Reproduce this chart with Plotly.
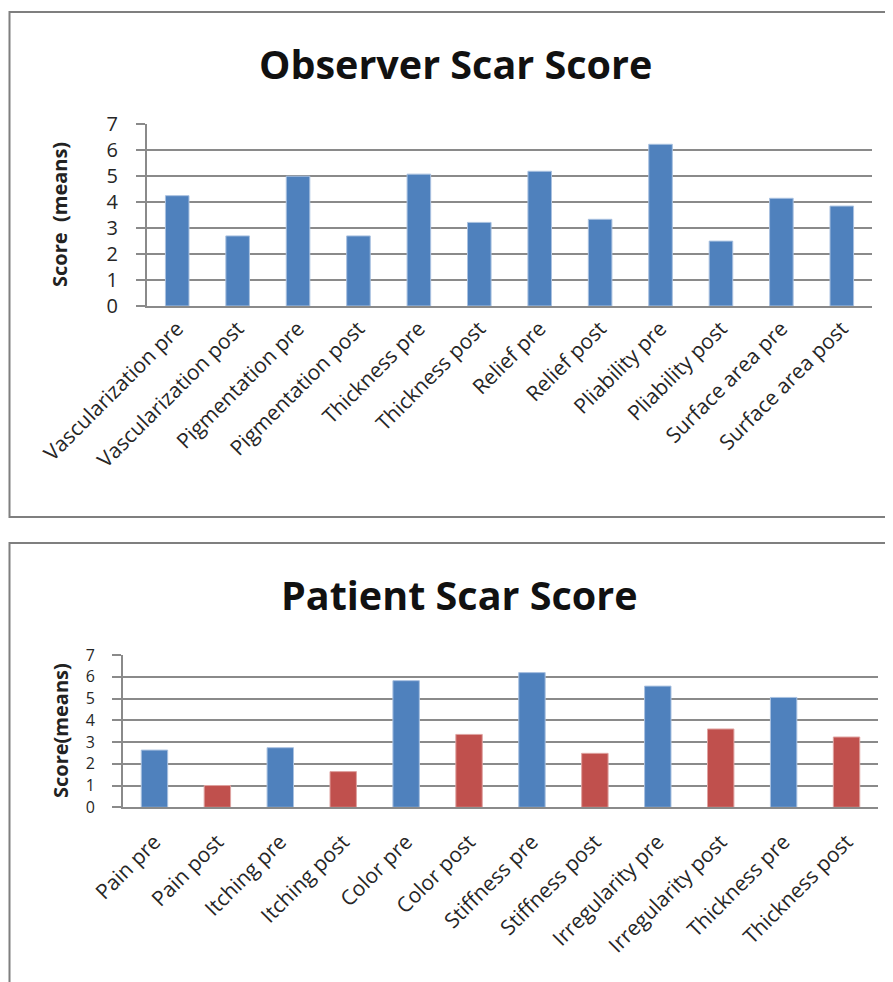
import plotly.graph_objects as go

# ---------------- data ----------------
observer_categories = [
    "Vascularization pre", "Vascularization post", "Pigmentation pre",
    "Pigmentation post", "Thickness pre", "Thickness post", "Relief pre",
    "Relief post", "Pliability pre", "Pliability post", "Surface area pre",
    "Surface area post",
]
observer_values = [4.25, 2.7, 5.0, 2.7, 5.08, 3.22, 5.19, 3.34, 6.23, 2.5, 4.15, 3.85]

patient_categories = [
    "Pain pre", "Pain post", "Itching pre", "Itching post", "Color pre",
    "Color post", "Stiffness pre", "Stiffness post", "Irregularity pre",
    "Irregularity post", "Thickness pre", "Thickness post",
]
patient_pre_categories = ["Pain pre", "Itching pre", "Color pre", "Stiffness pre",
                          "Irregularity pre", "Thickness pre"]
patient_pre_values = [2.63, 2.74, 5.82, 6.19, 5.57, 5.05]
patient_post_categories = ["Pain post", "Itching post", "Color post", "Stiffness post",
                           "Irregularity post", "Thickness post"]
patient_post_values = [1.0, 1.64, 3.35, 2.48, 3.6, 3.23]

y_ticks = [0, 1, 2, 3, 4, 5, 6, 7]

# ---------------- style ----------------
W, H = 893, 982
OFF = 8  # page body margin in the browser
BLUE = "#4F81BD"
RED = "#C0504D"
GRID = "#8a8a8a"
FONT = "Open Sans"


def px_x(p):
    return (p - OFF) / W


def px_y(p):
    return 1 - (p - OFF) / H


fig = go.Figure()

fig.add_trace(go.Bar(
    x=observer_categories, y=observer_values, width=0.39,
    marker=dict(color=BLUE, line=dict(color="#a9c1e0", width=1)),
    xaxis="x", yaxis="y", showlegend=False,
))
fig.add_trace(go.Bar(
    x=patient_pre_categories, y=patient_pre_values, width=0.42,
    marker=dict(color=BLUE, line=dict(color="#a9c1e0", width=1)),
    xaxis="x2", yaxis="y2", showlegend=False,
))
fig.add_trace(go.Bar(
    x=patient_post_categories, y=patient_post_values, width=0.42,
    marker=dict(color=RED, line=dict(color="#dfa3a1", width=1)),
    xaxis="x2", yaxis="y2", showlegend=False,
))

xcommon = dict(
    type="category", tickangle=-45, showgrid=False, automargin=False,
    showline=True, linecolor=GRID, linewidth=2,
    ticks="", tickfont=dict(family=FONT, size=21, color="#262626"),
)
ycommon = dict(
    range=[0, 7], tickvals=y_ticks, showgrid=True, gridcolor=GRID, gridwidth=2,
    showline=True, linecolor=GRID, linewidth=2, zeroline=False, automargin=False,
    ticks="outside", ticklen=9, tickwidth=2, tickcolor=GRID,
)

fig.update_layout(
    width=W, height=H, autosize=False,
    margin=dict(l=0, r=0, t=0, b=0, pad=0),
    paper_bgcolor="white", plot_bgcolor="white",
    barmode="overlay",
    xaxis=dict(domain=[px_x(147), px_x(872)], anchor="y",
               ticklabelstandoff=0,
               categoryorder="array", categoryarray=observer_categories, **xcommon),
    yaxis=dict(domain=[px_y(306), px_y(124.3)], anchor="x",
               ticklabelstandoff=14,
               tickfont=dict(family=FONT, size=20, color="#262626"), **ycommon),
    xaxis2=dict(domain=[px_x(123), px_x(878)], anchor="y2",
                ticklabelstandoff=12,
                categoryorder="array", categoryarray=patient_categories, **xcommon),
    yaxis2=dict(domain=[px_y(807.3), px_y(655)], anchor="x2",
                ticklabelstandoff=14,
                tickfont=dict(family=FONT, size=16, color="#262626"), **ycommon),
)

# chart borders
fig.add_shape(type="rect", xref="paper", yref="paper",
              x0=px_x(9.5), x1=px_x(W + 20), y0=px_y(517), y1=px_y(12),
              line=dict(color="#7f7f7f", width=2), layer="below")
fig.add_shape(type="rect", xref="paper", yref="paper",
              x0=px_x(9.5), x1=px_x(W + 20), y0=px_y(H + 20), y1=px_y(543),
              line=dict(color="#7f7f7f", width=2), layer="below")

# titles
fig.add_annotation(text="<b>Observer Scar Score</b>", xref="paper", yref="paper",
                   x=px_x(455), y=px_y(64), xanchor="center", yanchor="middle",
                   showarrow=False,
                   font=dict(family=FONT, size=39.5, color="#111111"))
fig.add_annotation(text="<b>Patient Scar Score</b>", xref="paper", yref="paper",
                   x=px_x(459), y=px_y(595), xanchor="center", yanchor="middle",
                   showarrow=False,
                   font=dict(family=FONT, size=39.5, color="#111111"))

# y-axis titles
fig.add_annotation(text="<b>Score  (means)</b>", xref="paper", yref="paper",
                   x=px_x(60), y=px_y(215), xanchor="center", yanchor="middle",
                   showarrow=False, textangle=-90,
                   font=dict(family=FONT, size=20, color="#222222"))
fig.add_annotation(text="<b>Score(means)</b>", xref="paper", yref="paper",
                   x=px_x(60), y=px_y(731), xanchor="center", yanchor="middle",
                   showarrow=False, textangle=-90,
                   font=dict(family=FONT, size=20, color="#222222"))

fig.write_html("out.html")
